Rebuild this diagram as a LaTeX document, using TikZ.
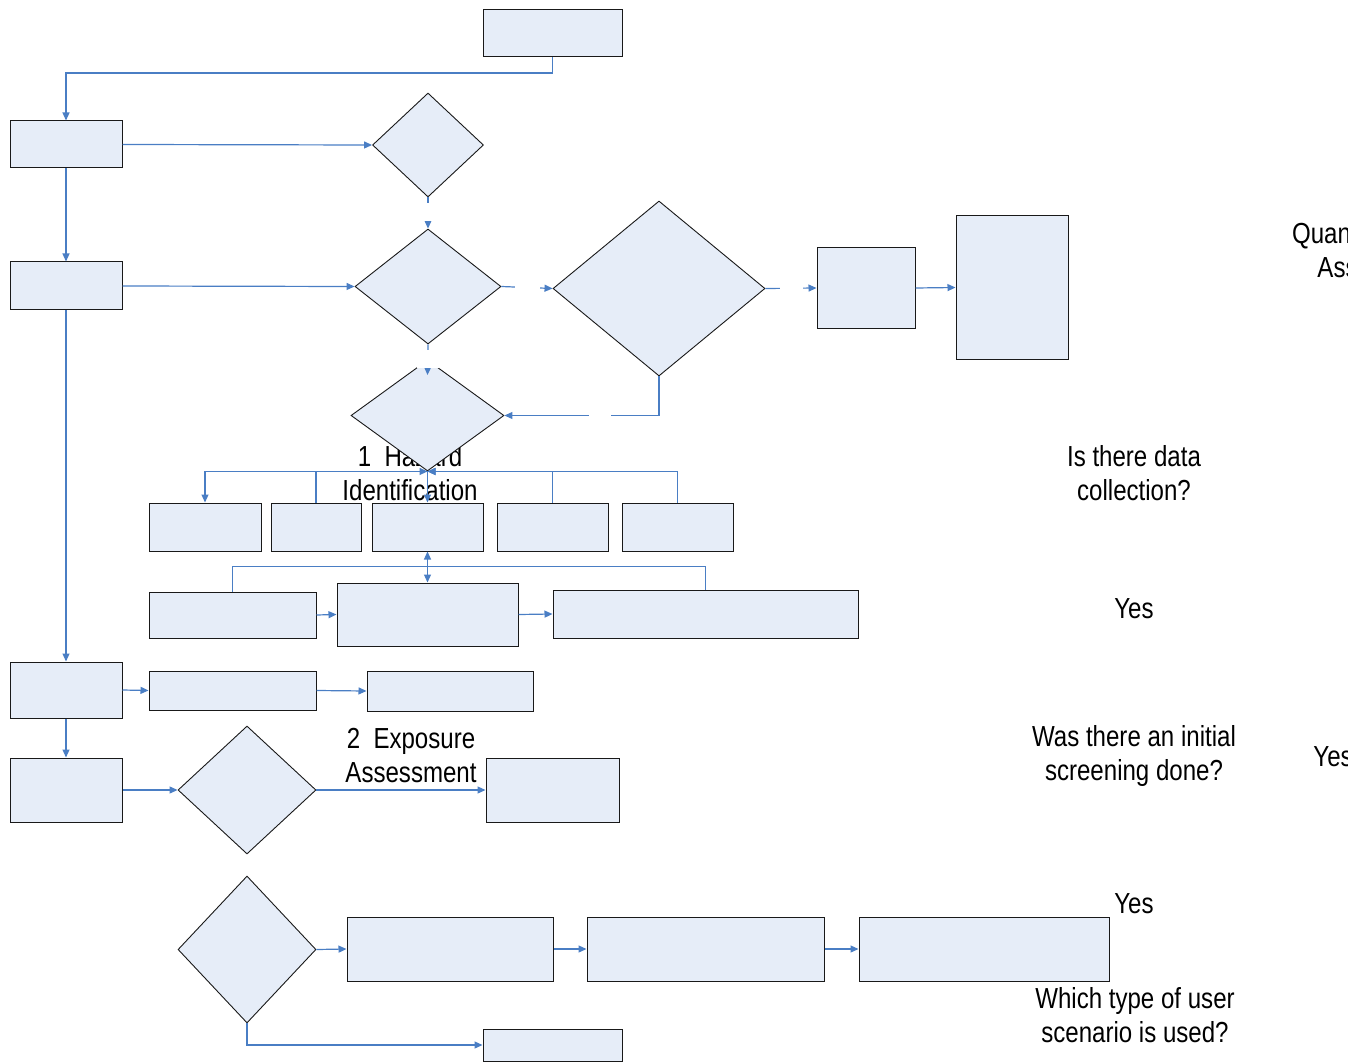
\documentclass[tikz,border=0pt]{standalone}
\usepackage{fontspec}
\setmainfont{Liberation Sans}[FakeStretch=0.83]
\usetikzlibrary{shapes.geometric,arrows.meta,calc}
\definecolor{lineblue}{HTML}{4A7EC4}
\definecolor{boxfill}{HTML}{E6EDF8}
\begin{document}
\begin{tikzpicture}[x=1pt,y=-1pt,
  box/.style={rectangle,draw=black!90,fill=boxfill,line width=1pt,inner sep=0pt},
  dia/.style={diamond,draw=black!90,fill=boxfill,line width=0.9pt,inner sep=0pt},
  conn/.style={draw=lineblue,line width=1.2pt,-{Triangle[length=8pt,width=7pt]}},
  dconn/.style={draw=lineblue,line width=1.2pt,{Triangle[length=8pt,width=7pt]}-{Triangle[length=8pt,width=7pt]}},
  plainline/.style={draw=lineblue,line width=1.2pt},
  gapbox/.style={fill=white,draw=none,inner sep=0pt,minimum height=18pt},
  lbl/.style={font=\fontsize{29}{34}\selectfont,align=center,inner sep=0pt,text=black}]
\useasboundingbox (0,0) rectangle (1348,1064);
\clip (0,0) rectangle (1348,1064);

% texts lying under shapes
\node[lbl] (thaz) at (410,473) {1~~Hazard\\Identification};
\node[lbl] (texp) at (411,756) {2~~Exposure\\Assessment};

% right-hand texts
\node[lbl] (tquant) at (1383,250) {Quantitative Risk\\Assessment};
\node[lbl] (tdata) at (1134,473) {Is there data\\collection?};
\node[lbl] (tyes1) at (1134,609) {Yes};
\node[lbl] (tscreen) at (1134,756) {Was there an initial\\screening done?};
\node[lbl] (tyes2) at (1333,757) {Yes};
\node[lbl] (tyes3) at (1134,904) {Yes};
\node[lbl] (tuser) at (1135,1015) {Which type of user\\scenario is used?};

% boxes
\node[box,minimum width=139pt,minimum height=47pt] (B0) at (552.5,33.5) {};
\node[box,minimum width=112pt,minimum height=47pt] (B1) at (66,144.5) {};
\node[box,minimum width=112pt,minimum height=48pt] (B2) at (66,286) {};
\node[box,minimum width=98pt,minimum height=80pt] (B3) at (866,288) {};
\node[box,minimum width=112pt,minimum height=143pt] (B4) at (1012,287.5) {};

\node[box,minimum width=112pt,minimum height=48pt] (R1a) at (205,527) {};
\node[box,minimum width=90pt,minimum height=48pt] (R1b) at (316,527) {};
\node[box,minimum width=111pt,minimum height=48pt] (R1c) at (427.5,527) {};
\node[box,minimum width=111pt,minimum height=48pt] (R1d) at (552.5,527) {};
\node[box,minimum width=111pt,minimum height=48pt] (R1e) at (677.5,527) {};

\node[box,minimum width=167pt,minimum height=46pt] (R2a) at (232.5,615) {};
\node[box,minimum width=181pt,minimum height=63pt] (R2b) at (427.5,614.5) {};
\node[box,minimum width=305pt,minimum height=48pt] (R2c) at (705.5,614) {};

\node[box,minimum width=112pt,minimum height=56pt] (B5) at (66,690) {};
\node[box,minimum width=167pt,minimum height=39pt] (R3a) at (232.5,690.5) {};
\node[box,minimum width=166pt,minimum height=40pt] (R3b) at (450,691) {};

\node[box,minimum width=112pt,minimum height=64pt] (B6) at (66,790) {};
\node[box,minimum width=133pt,minimum height=64pt] (B7) at (552.5,790) {};

\node[box,minimum width=206pt,minimum height=64pt] (B8) at (450,949) {};
\node[box,minimum width=237pt,minimum height=64pt] (B9) at (705.5,949) {};
\node[box,minimum width=250pt,minimum height=64pt] (B10) at (984,949) {};
\node[box,minimum width=139pt,minimum height=32pt] (B11) at (552.5,1045) {};

% diamonds
\node[dia,minimum width=111pt,minimum height=104pt] (D1) at (428,145) {};
\node[dia,minimum width=146pt,minimum height=115pt] (D2) at (428,286.5) {};
\node[dia,minimum width=212pt,minimum height=175pt] (D3) at (659,288.5) {};
\node[dia,minimum width=153pt,minimum height=111pt] (D4) at (427.5,415.5) {};
\node[dia,minimum width=138pt,minimum height=128pt] (D5) at (247,790) {};
\node[dia,minimum width=138pt,minimum height=147pt] (D6) at (247,949.5) {};

\coordinate (D4in) at (427.5,375);

% connectors
\draw[conn] (B0.south) -- (B0.south |- 0,73) -| (B1.north);
\draw[conn] (B1.east) -- (D1.west);
\draw[conn] (D1.south) -- node[gapbox,minimum width=22pt,pos=0.48] {} (D2.north);
\draw[conn] (B1.south) -- (B2.north);
\draw[conn] (B2.east) -- (D2.west);
\draw[conn] (D2.east) -- node[gapbox,minimum width=25pt,pos=0.51] {} (D3.west);
\draw[conn] (D3.east) -- node[gapbox,minimum width=23pt,pos=0.51] {} (B3.west);
\draw[conn] (B3.east) -- (B4.west);
\draw[conn] (D3.south) |- node[gapbox,minimum width=22pt,pos=0.69] {} (D4.east);
\draw[conn] (D2.south) -- node[gapbox,minimum width=22pt,pos=0.48] {} (D4in);

\draw[conn] (D4.south) -| (R1a.north);
\draw[conn] (R1b.north) |- (D4.south);
\draw[conn] (R1d.north) |- (D4.south);
\draw[conn] (R1e.north) |- (D4.south);
\draw[conn] (D4.south) -- (R1c.north);

\draw[dconn] (R1c.south) -- (R2b.north);
\draw[plainline] (R2a.north) -- ++(0,-25) -| (R2c.north);
\draw[conn] (R2a.east) -- (R2b.west);
\draw[conn] (R2b.east) -- (R2c.west);

\draw[conn] (B2.south) -- (B5.north);
\draw[conn] (B5.east) -- (R3a.west);
\draw[conn] (R3a.east) -- (R3b.west);
\draw[conn] (B5.south) -- (B6.north);
\draw[conn] (B6.east) -- (D5.west);
\draw[conn] (D5.east) -- (B7.west);

\draw[conn] (D6.east) -- (B8.west);
\draw[conn] (B8.east) -- (B9.west);
\draw[conn] (B9.east) -- (B10.west);
\draw[conn] (D6.south) |- (B11.west);
\end{tikzpicture}
\end{document}
